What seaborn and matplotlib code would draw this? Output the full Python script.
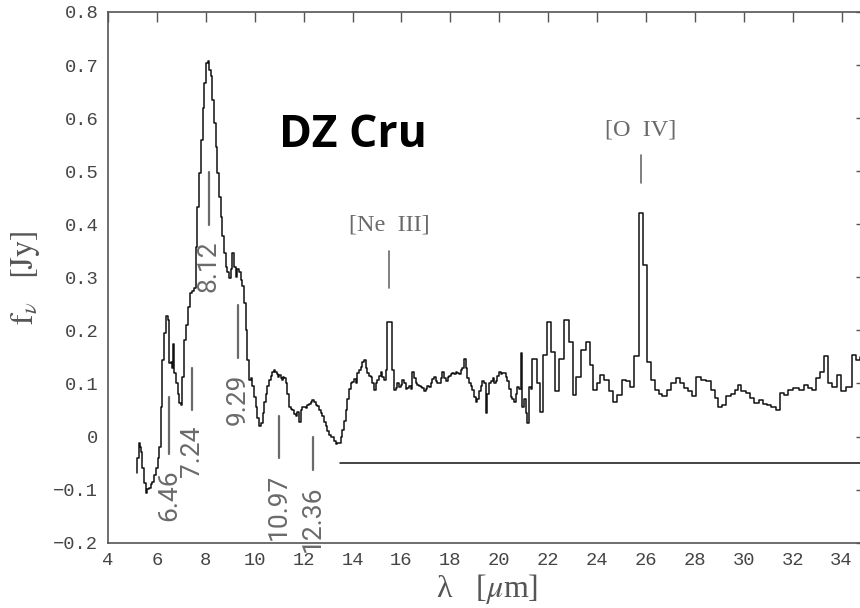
import numpy as np
import pandas as pd
import matplotlib
matplotlib.use("Agg")
import matplotlib.pyplot as plt
import seaborn as sns

# ---- data ----
wl_short = [5.17, 5.22, 5.28, 5.33, 5.38, 5.44, 5.51, 5.58, 5.65, 5.72, 5.78, 5.85, 5.92, 5.99,
            6.06, 6.13, 6.19, 6.26, 6.33, 6.40, 6.47, 6.53, 6.60, 6.65, 6.69, 6.73, 6.81, 6.88,
            6.94, 7.00, 7.08, 7.15, 7.24, 7.32, 7.42, 7.49, 7.56, 7.63, 7.69, 7.76, 7.83, 7.90,
            7.97, 8.04, 8.10, 8.17, 8.24, 8.30, 8.37, 8.44, 8.51, 8.58, 8.65, 8.71, 8.78, 8.85,
            8.92, 8.99, 9.05, 9.12, 9.19, 9.26, 9.32, 9.39, 9.47, 9.53, 9.60, 9.67, 9.74, 9.81,
            9.87, 9.94, 10.01, 10.08, 10.14, 10.19, 10.24, 10.29, 10.35, 10.42, 10.49, 10.55,
            10.62, 10.69, 10.76, 10.82, 10.87, 10.92, 10.96, 11.03, 11.09, 11.14, 11.19, 11.23,
            11.30, 11.37, 11.44, 11.51, 11.58, 11.64, 11.71, 11.78, 11.85, 11.92, 11.98, 12.05,
            12.12, 12.19, 12.26, 12.32, 12.39, 12.46, 12.53, 12.60, 12.67, 12.73, 12.80, 12.87,
            12.94, 13.01, 13.08, 13.14, 13.21, 13.28, 13.35, 13.42, 13.49]
flux_short = [-0.069, -0.04, -0.012, -0.02, -0.03, -0.06, -0.088, -0.106, -0.098, -0.097, -0.09,
              -0.085, -0.072, -0.06, -0.04, -0.019, 0.056, 0.144, 0.195, 0.227, 0.22, 0.139, 0.14,
              0.13, 0.175, 0.12, 0.10, 0.08, 0.063, 0.06, 0.113, 0.182, 0.21, 0.245, 0.27, 0.275,
              0.28, 0.358, 0.433, 0.496, 0.559, 0.62, 0.666, 0.703, 0.708, 0.691, 0.68, 0.634,
              0.59, 0.546, 0.496, 0.452, 0.414, 0.377, 0.346, 0.32, 0.31, 0.299, 0.315, 0.346,
              0.32, 0.30, 0.315, 0.31, 0.295, 0.283, 0.252, 0.20, 0.144, 0.107, 0.11, 0.095,
              0.075, 0.056, 0.035, 0.019, 0.02, 0.025, 0.045, 0.065, 0.081, 0.095, 0.107, 0.115,
              0.122, 0.126, 0.122, 0.118, 0.113, 0.116, 0.11, 0.107, 0.112, 0.11, 0.10, 0.081,
              0.056, 0.052, 0.05, 0.042, 0.038, 0.047, 0.028, 0.05, 0.055, 0.056, 0.053, 0.06,
              0.062, 0.065, 0.069, 0.065, 0.06, 0.057, 0.05, 0.045, 0.038, 0.028, 0.019, 0.01,
              0.003, 0.0, 0.0, -0.008, -0.014, -0.012, -0.013]

wl_mid = [13.55, 13.62, 13.69, 13.76, 13.82, 13.89, 13.96, 14.03, 14.10, 14.17, 14.23, 14.30,
          14.37, 14.44, 14.51, 14.58, 14.64, 14.71, 14.78, 14.85, 14.92, 14.98, 15.05, 15.12,
          15.19, 15.26, 15.33, 15.39, 15.46, 15.56, 15.66, 15.73, 15.80, 15.87, 15.94, 16.00,
          16.07, 16.14, 16.21, 16.28, 16.35, 16.41, 16.48, 16.55, 16.62, 16.69, 16.75, 16.82,
          16.89, 16.96, 17.03, 17.10, 17.17, 17.24, 17.30, 17.37, 17.44, 17.51, 17.58, 17.65,
          17.71, 17.78, 17.85, 17.92, 17.98, 18.05, 18.12, 18.19, 18.25, 18.32, 18.39, 18.46,
          18.53, 18.60, 18.67, 18.73, 18.80, 18.87, 18.94, 19.00, 19.07, 19.14, 19.21, 19.28,
          19.35, 19.42, 19.48, 19.55, 19.62, 19.69, 19.76, 19.82, 19.89, 19.96, 20.03, 20.10,
          20.16, 20.23, 20.30, 20.37, 20.44, 20.50, 20.57, 20.64, 20.71, 20.78, 20.84, 20.91,
          20.98, 21.05, 21.12, 21.18, 21.25, 21.32]
flux_mid = [0.0, 0.012, 0.03, 0.05, 0.07, 0.09, 0.10, 0.103, 0.108, 0.10, 0.119, 0.125, 0.132,
            0.14, 0.144, 0.13, 0.119, 0.115, 0.113, 0.10, 0.088, 0.10, 0.107, 0.115, 0.122,
            0.112, 0.107, 0.125, 0.216, 0.216, 0.125, 0.088, 0.092, 0.10, 0.094, 0.098, 0.107,
            0.10, 0.09, 0.092, 0.095, 0.09, 0.122, 0.11, 0.10, 0.098, 0.095, 0.094, 0.092, 0.085,
            0.09, 0.095, 0.094, 0.1, 0.108, 0.113, 0.105, 0.1, 0.10, 0.11, 0.122, 0.11, 0.105,
            0.112, 0.115, 0.118, 0.12, 0.118, 0.122, 0.12, 0.118, 0.125, 0.13, 0.147, 0.13, 0.11,
            0.10, 0.095, 0.088, 0.075, 0.066, 0.07, 0.085, 0.095, 0.105, 0.10, 0.044, 0.08, 0.10,
            0.105, 0.11, 0.1, 0.105, 0.115, 0.122, 0.118, 0.12, 0.119, 0.112, 0.105, 0.09, 0.075,
            0.07, 0.066, 0.08, 0.094, 0.09, 0.157, 0.056, 0.07, 0.044, 0.025, 0.094, 0.09]

wl_long = [21.39, 21.50, 21.60, 21.73, 21.87, 22.04, 22.21, 22.37, 22.55, 22.75, 22.92, 23.09,
           23.23, 23.43, 23.64, 23.78, 23.91, 24.05, 24.18, 24.39, 24.59, 24.73, 24.93, 25.10,
           25.25, 25.41, 25.61, 25.80, 25.95, 26.12, 26.29, 26.46, 26.58, 26.77, 26.93, 27.11,
           27.32, 27.45, 27.63, 27.80, 28.00, 28.13, 28.34, 28.61, 28.75, 28.88, 29.02, 29.22,
           29.36, 29.56, 29.70, 29.84, 29.97, 30.18, 30.35, 30.52, 30.72, 30.89, 31.05, 31.20,
           31.41, 31.54, 31.75, 31.88, 32.15, 32.36, 32.56, 32.70, 32.90, 33.04, 33.18, 33.35,
           33.52, 33.73, 33.89, 34.06, 34.33, 34.54, 34.68, 34.85]
flux_long = [0.147, 0.147, 0.10, 0.047, 0.154, 0.216, 0.16, 0.085, 0.147, 0.22, 0.179, 0.078,
             0.113, 0.163, 0.179, 0.135, 0.088, 0.10, 0.116, 0.107, 0.085, 0.066, 0.078, 0.107,
             0.105, 0.094, 0.151, 0.421, 0.323, 0.141, 0.107, 0.088, 0.08, 0.076, 0.088, 0.1,
             0.11, 0.1, 0.091, 0.085, 0.076, 0.113, 0.107, 0.104, 0.088, 0.072, 0.056, 0.06,
             0.076, 0.08, 0.088, 0.097, 0.085, 0.082, 0.072, 0.063, 0.069, 0.062, 0.06, 0.056,
             0.05, 0.082, 0.078, 0.088, 0.091, 0.088, 0.097, 0.091, 0.088, 0.11, 0.122, 0.151,
             0.10, 0.094, 0.116, 0.085, 0.094, 0.154, 0.144, 0.15]

baseline_x = [13.5, 35.0]
baseline_y = [-0.05, -0.05]

feature_labels = ["6.46", "7.24", "8.12", "9.29", "10.97", "12.36"]
feature_x = [6.51, 7.42, 8.13, 9.30, 11.00, 12.37]
feature_top = [0.075, 0.129, 0.499, 0.248, 0.039, -0.001]
feature_bot = [-0.032, 0.050, 0.399, 0.148, -0.041, -0.063]

line_labels = ["[Ne  III]", "[O  IV]"]
line_x = [15.50, 25.79]
line_top = [0.350, 0.530]
line_bot = [0.279, 0.478]

x_ticks = list(range(4, 36, 2))
y_ticks = [-0.2, -0.1, 0.0, 0.1, 0.2, 0.3, 0.4, 0.5, 0.6, 0.7, 0.8]

# ---- plotting ----
sns.set_theme(style="white")
plt.rcParams["mathtext.fontset"] = "stix"
plt.rcParams["font.family"] = ["DejaVu Sans"]

df = pd.DataFrame({"wl": wl_short + wl_mid + wl_long,
                   "flux": flux_short + flux_mid + flux_long})

fig = plt.figure(figsize=(8.6, 6.08), dpi=100)
ax = fig.add_axes([108 / 860, 65.3 / 608, 758 / 860, 530.7 / 608])

sns.lineplot(data=df, x="wl", y="flux", ax=ax, color="#111111", lw=1.1,
             drawstyle="steps-mid", sort=True)
sns.lineplot(x=baseline_x, y=baseline_y, ax=ax, color="#111111", lw=1.1)

gray = "#6a6a6a"
for lab, xx, t, b in zip(feature_labels, feature_x, feature_top, feature_bot):
    ax.plot([xx, xx], [b, t], color=gray, lw=1.6)
    ax.text(xx, b - 0.03, lab, rotation=90, ha="center", va="top",
            color=gray, fontsize=19, family="Roboto")

for lab, xx, t, b in zip(line_labels, line_x, line_top, line_bot):
    ax.plot([xx, xx], [b, t], color=gray, lw=1.2)
    ax.text(xx, t + 0.028, lab, ha="center", va="bottom", color=gray,
            fontsize=17.5, family="Liberation Serif")

ax.text(14.0, 0.568, "DZ Cru", ha="center", va="center", fontsize=32,
        fontweight="bold", color="black", family="Open Sans")

ax.set_xlim(4, 35)
ax.set_ylim(-0.2, 0.8)
ax.set_xticks(x_ticks)
ax.set_yticks(y_ticks)
ax.set_xticklabels([str(t) for t in x_ticks], family="Liberation Mono",
                   fontsize=13.5, color="#444444")
ylabels = []
for t in y_ticks:
    s = "0" if abs(t) < 1e-9 else f"{t:.1f}".replace("-", "\u2212")
    ylabels.append(s)
ax.set_yticklabels(ylabels, family="Liberation Mono", fontsize=13.5, color="#444444")
ax.tick_params(direction="in", length=7, width=1.0, color="#555555",
               top=True, right=True, pad=7)
for s in ax.spines.values():
    s.set_color("#555555")
    s.set_linewidth(1.2)

ax.set_xlabel("\u03bb   [$\\mu$m]", fontsize=23, color="#555555", labelpad=2,
              family="Liberation Serif")
ax.set_ylabel(r"$\mathrm{f}_{\nu}\ \ \ [\mathrm{Jy}]$", fontsize=23, color="#555555", labelpad=8)

fig.savefig("out.png", dpi=100)
